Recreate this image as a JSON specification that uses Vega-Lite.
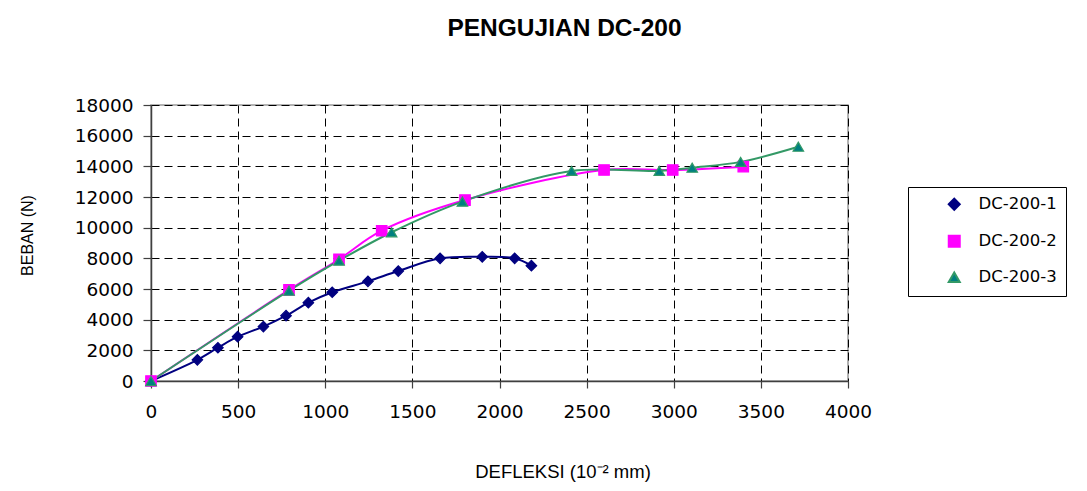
{
  "$schema": "https://vega.github.io/schema/vega-lite/v6.json",
  "autosize": "none",
  "width": 697,
  "height": 276,
  "padding": {"left": 151, "top": 105, "right": 239, "bottom": 110},
  "background": "white",
  "title": {
    "text": "PENGUJIAN DC-200",
    "font": "Liberation Sans",
    "fontSize": 24.5,
    "fontWeight": "bold",
    "color": "black",
    "anchor": "middle",
    "frame": "group",
    "dx": 65,
    "offset": 55
  },
  "config": {
    "view": {"stroke": "#9a9a9a", "strokeWidth": 1.5},
    "axis": {
      "grid": true,
      "gridColor": "black",
      "gridDash": [8, 5],
      "gridWidth": 1,
      "gridOpacity": 1,
      "domainColor": "#404040",
      "domainWidth": 1.5,
      "tickColor": "#404040",
      "tickWidth": 1.2,
      "labelFont": "DejaVu Sans",
      "labelFontSize": 18.5,
      "labelColor": "black",
      "titleFont": "Liberation Sans",
      "titleFontWeight": "normal",
      "titleColor": "black"
    }
  },
  "data": {
    "values": [
      {"series": "DC-200-1", "x": 0, "y": 0},
      {"series": "DC-200-1", "x": 266, "y": 1380},
      {"series": "DC-200-1", "x": 384, "y": 2170},
      {"series": "DC-200-1", "x": 497, "y": 2890},
      {"series": "DC-200-1", "x": 645, "y": 3550},
      {"series": "DC-200-1", "x": 775, "y": 4260},
      {"series": "DC-200-1", "x": 903, "y": 5110},
      {"series": "DC-200-1", "x": 1040, "y": 5790},
      {"series": "DC-200-1", "x": 1245, "y": 6500},
      {"series": "DC-200-1", "x": 1419, "y": 7170},
      {"series": "DC-200-1", "x": 1659, "y": 8000},
      {"series": "DC-200-1", "x": 1901, "y": 8100},
      {"series": "DC-200-1", "x": 2087, "y": 8000},
      {"series": "DC-200-1", "x": 2183, "y": 7520},
      {"series": "DC-200-2", "x": 0, "y": 0},
      {"series": "DC-200-2", "x": 792, "y": 5940},
      {"series": "DC-200-2", "x": 1079, "y": 7940},
      {"series": "DC-200-2", "x": 1324, "y": 9800},
      {"series": "DC-200-2", "x": 1802, "y": 11800},
      {"series": "DC-200-2", "x": 2600, "y": 13760},
      {"series": "DC-200-2", "x": 2994, "y": 13760},
      {"series": "DC-200-2", "x": 3399, "y": 13980},
      {"series": "DC-200-3", "x": 0, "y": 0},
      {"series": "DC-200-3", "x": 792, "y": 5890},
      {"series": "DC-200-3", "x": 1079, "y": 7850},
      {"series": "DC-200-3", "x": 1381, "y": 9700},
      {"series": "DC-200-3", "x": 1787, "y": 11700},
      {"series": "DC-200-3", "x": 2414, "y": 13700},
      {"series": "DC-200-3", "x": 2917, "y": 13700},
      {"series": "DC-200-3", "x": 3106, "y": 13910},
      {"series": "DC-200-3", "x": 3384, "y": 14290},
      {"series": "DC-200-3", "x": 3715, "y": 15280}
    ]
  },
  "encoding": {
    "x": {
      "field": "x",
      "type": "quantitative",
      "scale": {"domain": [0, 4000], "nice": false, "zero": true},
      "axis": {
        "values": [0, 500, 1000, 1500, 2000, 2500, 3000, 3500, 4000],
        "format": "d",
        "tickSize": 7,
        "labelPadding": 14,
        "labelFlush": false,
        "title": "DEFLEKSI (10⁻² mm)",
        "titleFontSize": 18.5,
        "titleX": 411.5,
        "titleY": 96,
        "titleAlign": "center",
        "titleBaseline": "alphabetic",
        "titleAnchor": null
      }
    },
    "y": {
      "field": "y",
      "type": "quantitative",
      "scale": {"domain": [0, 18000], "nice": false},
      "axis": {
        "values": [0, 2000, 4000, 6000, 8000, 10000, 12000, 14000, 16000, 18000],
        "format": "d",
        "tickSize": 8,
        "labelPadding": 10,
        "labelFlush": false,
        "title": "BEBAN (N)",
        "titleFontSize": 16,
        "titleX": -123.5,
        "titleY": 130,
        "titleAngle": -90,
        "titleAlign": "center",
        "titleBaseline": "middle",
        "titleAnchor": null
      }
    }
  },
  "layer": [
    {
      "mark": {"type": "line", "interpolate": "catmull-rom", "strokeWidth": 2},
      "encoding": {
        "color": {
          "field": "series",
          "type": "nominal",
          "scale": {"domain": ["DC-200-1", "DC-200-2", "DC-200-3"], "range": ["#000080", "#FF00FF", "#339966"]},
          "legend": {
            "title": null,
            "orient": "none",
            "legendX": 757,
            "legendY": 82,
            "fillColor": "white",
            "strokeColor": "black",
            "padding": 9,
            "labelFont": "DejaVu Sans",
            "labelFontSize": 16.5,
            "labelColor": "black",
            "symbolSize": 121,
            "symbolOffset": 29,
            "labelOffset": 16,
            "rowPadding": 17,
            "encode": {
              "symbols": {
                "update": {
                  "shape": {"signal": "datum.value === 'DC-200-1' ? 'M-4.45,0L4.45,0M0,-1L1,0L0,1L-1,0Z' : datum.value === 'DC-200-2' ? 'M-4.45,0L4.45,0M-0.9,-0.9L0.9,-0.9L0.9,0.9L-0.9,0.9Z' : 'M-4.45,0L4.45,0M0,-1.1L1.05,0.8L-1.05,0.8Z'"},
                  "fill": {"signal": "datum.value === 'DC-200-1' ? '#000080' : datum.value === 'DC-200-2' ? '#FF00FF' : '#008080'"},
                  "stroke": {"signal": "datum.value === 'DC-200-1' ? '#000080' : datum.value === 'DC-200-2' ? '#FF00FF' : '#339966'"},
                  "fillOpacity": {"value": 1},
                  "strokeOpacity": {"value": 1},
                  "strokeWidth": {"value": 2},
                  "opacity": {"value": 1}
                }
              }
            }
          }
        }
      }
    },
    {
      "mark": {"type": "point", "filled": true, "opacity": 1, "strokeWidth": 1.2},
      "encoding": {
        "shape": {
          "field": "series",
          "type": "nominal",
          "scale": {"domain": ["DC-200-1", "DC-200-2", "DC-200-3"], "range": ["diamond", "square", "triangle-up"]},
          "legend": null
        },
        "fill": {
          "field": "series",
          "type": "nominal",
          "scale": {"domain": ["DC-200-1", "DC-200-2", "DC-200-3"], "range": ["#000080", "#FF00FF", "#008080"]},
          "legend": null
        },
        "stroke": {
          "field": "series",
          "type": "nominal",
          "scale": {"domain": ["DC-200-1", "DC-200-2", "DC-200-3"], "range": ["#000080", "#FF00FF", "#339966"]},
          "legend": null
        },
        "size": {"value": 110}
      }
    }
  ]
}
